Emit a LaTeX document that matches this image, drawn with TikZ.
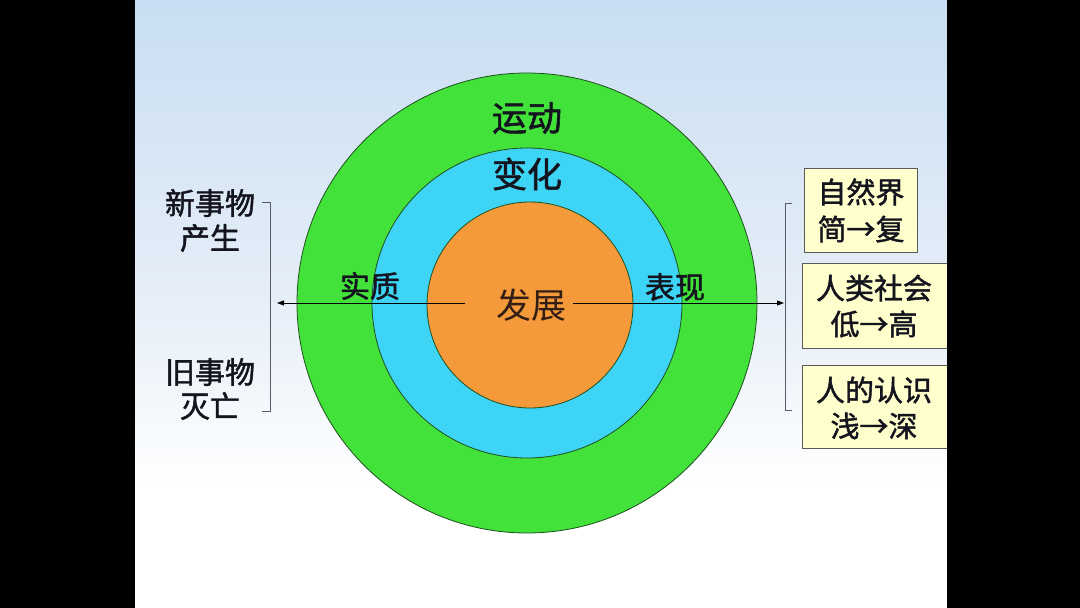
\documentclass[tikz,border=0pt]{standalone}
\usepackage{fontspec}
\newfontfamily\cjk{Noto Sans CJK SC}
\newfontfamily\cjkm{Noto Sans CJK SC}[FakeBold=1.5]
\usetikzlibrary{arrows.meta}
\definecolor{bgtop}{RGB}{200,222,242}
\definecolor{bgmid}{RGB}{230,238,248}
\definecolor{ringgreen}{RGB}{66,226,58}
\definecolor{ringblue}{RGB}{62,212,246}
\definecolor{ringorange}{RGB}{244,154,58}
\definecolor{ringedge}{RGB}{30,80,30}
\definecolor{boxfill}{RGB}{255,255,206}
\definecolor{boxedge}{RGB}{90,90,90}
\definecolor{bracketgray}{RGB}{90,90,100}
\definecolor{txtdark}{RGB}{20,20,30}
\definecolor{fzcolor}{RGB}{50,30,20}
\tikzset{
  ring/.style={draw=ringedge, line width=0.8pt},
  ringlabel/.style={font=\cjkm\fontsize{35}{40}\selectfont, text=txtdark, inner sep=0pt},
  sidelabel/.style={font=\cjkm\fontsize{30}{35}\selectfont, text=txtdark, inner sep=0pt},
  boxtext/.style={font=\cjkm\fontsize{29}{37}\selectfont, text=txtdark, inner sep=0pt},
  centerlabel/.style={font=\cjk\fontsize{35}{40}\selectfont, text=fzcolor, inner sep=0pt},
  yellowbox/.style={fill=boxfill, draw=boxedge, line width=0.8pt},
  bracket/.style={draw=bracketgray, line width=1pt},
  arrowline/.style={draw=black, line width=0.8pt, -{Triangle[length=7pt,width=5pt]}}
}
\begin{document}
\begin{tikzpicture}[x=1pt,y=-1pt]
\useasboundingbox (0,0) rectangle (1080,608);
% background
\fill[top color=bgtop, bottom color=bgmid] (135,0) rectangle (947,300);
\fill[top color=bgmid, bottom color=white] (135,300) rectangle (947,490);
\fill[white] (135,490) rectangle (947,608);
% rings
\fill[ring, fill=ringgreen] (527,303) circle[radius=230pt];
\fill[ring, fill=ringblue] (527,303) circle[radius=155pt];
\fill[ring, fill=ringorange] (530,305) circle[radius=103pt];
% ring labels
\node[ringlabel] (yd) at (527,118) {运动};
\node[ringlabel] (bh) at (527,174) {变化};
\node[sidelabel] (sz) at (370,286) {实质};
\node[sidelabel] (bx) at (675,287) {表现};
% left labels
\node[sidelabel] (xsw1) at (210,203) {新事物};
\node[sidelabel] (xsw2) at (210,238) {产生};
\node[sidelabel] (jsw1) at (210,372) {旧事物};
\node[sidelabel] (jsw2) at (210,406) {灭亡};
% right boxes
\draw[yellowbox] (804,168) rectangle (917,252);
\draw[yellowbox] (802,263) rectangle (960,348);
\draw[yellowbox] (802,365) rectangle (960,448);
\node[boxtext] (b1a) at (861,192) {自然界};
\node[boxtext] (b1b) at (861,229) {简→复};
\node[boxtext] (b2a) at (874,288) {人类社会};
\node[boxtext] (b2b) at (874,324) {低→高};
\node[boxtext] (b3a) at (874,390) {人的认识};
\node[boxtext] (b3b) at (874,426) {浅→深};
% centre label
\node[centerlabel] (fz) at (531,305) {发展};
% arrow endpoints
\coordinate (lstart) at (465,303);
\coordinate (rstart) at (573,303);
\coordinate (lend) at (277,303);
\coordinate (rend) at (784,303);
\draw[arrowline] (lstart) -- (lend);
\draw[arrowline] (rstart) -- (rend);
% left bracket
\draw[bracket] (262,202) -- (270,202) -- (270,411) -- (262,411);
% right bracket
\draw[bracket] (792,203) -- (785,203) -- (785,410) -- (792,410);
% black side bars
\fill[black] (0,0) rectangle (135,608);
\fill[black] (947,0) rectangle (1080,608);
\end{tikzpicture}
\end{document}
